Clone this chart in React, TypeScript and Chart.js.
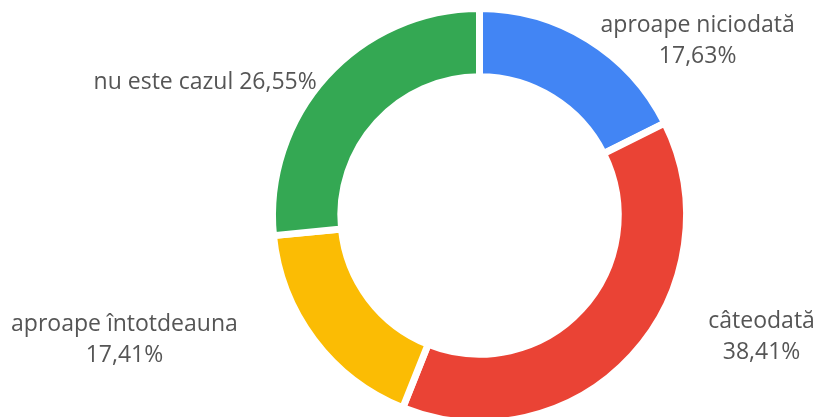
import React, { useEffect, useRef } from "react";
import { Chart, registerables } from "chart.js";

Chart.register(...registerables);

const categories = ["aproape niciodată", "câteodată", "aproape întotdeauna", "nu este cazul"];
const values = [17.63, 38.41, 17.41, 26.55];
const colors = ["#4285F4", "#EA4335", "#FBBC04", "#34A853"];
const wrapLabel = [true, true, true, false];

const fmt = (v: number) => v.toFixed(2).replace(".", ",") + "%";

const labelPlugin = {
  id: "outsideLabels",
  afterDraw(chart: any) {
    const opts = chart.options.plugins.outsideLabels;
    const ctx = chart.ctx;
    const meta = chart.getDatasetMeta(0);
    const bw = opts.borderWidth;
    ctx.save();
    ctx.font = opts.font;
    ctx.fillStyle = opts.color;
    ctx.textBaseline = "alphabetic";
    meta.data.forEach((arc: any, i: number) => {
      const mid = (arc.startAngle + arc.endAngle) / 2;
      const r = arc.outerRadius - bw / 2;
      const ex = arc.x + Math.cos(mid) * r;
      const ey = arc.y + Math.sin(mid) * r;
      const lines = wrapLabel[i]
        ? [categories[i], fmt(values[i])]
        : [categories[i] + " " + fmt(values[i])];
      const widths = lines.map((l) => ctx.measureText(l).width);
      const blockW = Math.max(...widths);
      const right = Math.cos(mid) >= 0;
      const [gap, dy] = opts.offsets[i];
      const left = right ? ex + gap : ex - gap - blockW;
      const cx = left + blockW / 2;
      lines.forEach((l, j) => {
        ctx.textAlign = "center";
        ctx.fillText(l, cx, ey + dy + j * opts.lineHeight);
      });
    });
    ctx.restore();
  },
};

export default function App() {
  const ref = useRef<HTMLCanvasElement | null>(null);
  useEffect(() => {
    if (!ref.current) return;
    const chart = new Chart(ref.current, {
      type: "doughnut",
      data: {
        labels: categories,
        datasets: [
          {
            data: values,
            backgroundColor: colors,
            borderColor: "#ffffff",
            borderWidth: 7,
            hoverOffset: 0,
          },
        ],
      },
      options: {
        animation: false,
        responsive: true,
        maintainAspectRatio: false,
        cutout: "67%",
        layout: { padding: { left: 140, right: 0, top: 5, bottom: 14 } },
        plugins: {
          legend: { display: false },
          tooltip: { enabled: false },
          outsideLabels: {
            font: "23px 'Open Sans'",
            color: "#555555",
            lineHeight: 31,
            borderWidth: 7,
            offsets: [
              [14, -10],
              [79, -25],
              [79, -7],
              [12, 10],
            ],
          },
        } as any,
      },
      plugins: [labelPlugin],
    });
    return () => chart.destroy();
  }, []);
  return (
    <div style={{ position: "fixed", left: 0, top: 0, width: 819, height: 417, overflow: "hidden", background: "#fff" }}>
      <div style={{ position: "relative", width: 819, height: 440 }}>
        <canvas ref={ref} />
      </div>
    </div>
  );
}
